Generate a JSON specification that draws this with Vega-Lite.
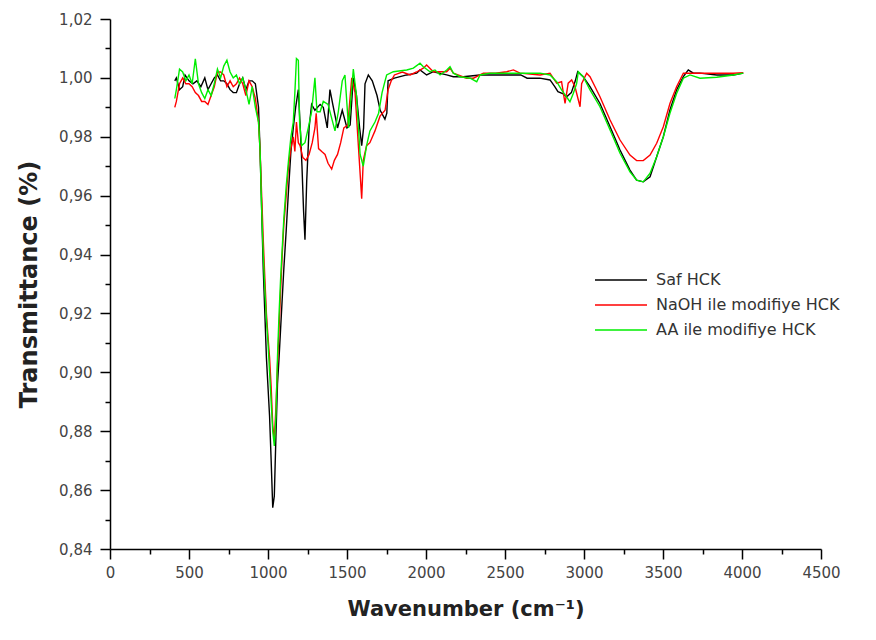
{
  "$schema": "https://vega.github.io/schema/vega-lite/v6.json",
  "width": 711,
  "height": 530,
  "autosize": {"type": "none"},
  "padding": {"left": 110, "top": 19, "right": 55, "bottom": 91},
  "background": "white",
  "config": {
    "view": {"stroke": null},
    "font": "DejaVu Sans"
  },
  "datasets": {
    "saf": [
      {"w": 410, "t": 0.999}, {"w": 420, "t": 1.000}, {"w": 440, "t": 0.996}, {"w": 460, "t": 0.997}, {"w": 475, "t": 1.001},
      {"w": 500, "t": 0.999}, {"w": 525, "t": 0.998}, {"w": 550, "t": 0.999}, {"w": 575, "t": 0.997}, {"w": 600, "t": 1.000},
      {"w": 620, "t": 0.996}, {"w": 640, "t": 0.998}, {"w": 660, "t": 1.000}, {"w": 680, "t": 1.001}, {"w": 700, "t": 0.999},
      {"w": 720, "t": 0.999}, {"w": 740, "t": 0.998}, {"w": 760, "t": 0.996}, {"w": 780, "t": 0.995}, {"w": 800, "t": 0.995},
      {"w": 820, "t": 0.998}, {"w": 840, "t": 1.000}, {"w": 860, "t": 0.996}, {"w": 880, "t": 0.999}, {"w": 900, "t": 0.999},
      {"w": 920, "t": 0.998}, {"w": 940, "t": 0.990}, {"w": 950, "t": 0.975}, {"w": 960, "t": 0.955}, {"w": 970, "t": 0.935},
      {"w": 980, "t": 0.920}, {"w": 990, "t": 0.905}, {"w": 1000, "t": 0.895}, {"w": 1010, "t": 0.885}, {"w": 1020, "t": 0.870},
      {"w": 1030, "t": 0.854}, {"w": 1040, "t": 0.858}, {"w": 1050, "t": 0.878}, {"w": 1060, "t": 0.896}, {"w": 1070, "t": 0.905},
      {"w": 1080, "t": 0.915}, {"w": 1090, "t": 0.925}, {"w": 1100, "t": 0.935}, {"w": 1115, "t": 0.948}, {"w": 1130, "t": 0.962},
      {"w": 1145, "t": 0.975}, {"w": 1160, "t": 0.983}, {"w": 1175, "t": 0.990}, {"w": 1192, "t": 0.996}, {"w": 1205, "t": 0.982},
      {"w": 1215, "t": 0.970}, {"w": 1225, "t": 0.955}, {"w": 1234, "t": 0.945}, {"w": 1245, "t": 0.965}, {"w": 1260, "t": 0.983},
      {"w": 1276, "t": 0.991}, {"w": 1297, "t": 0.989}, {"w": 1330, "t": 0.991}, {"w": 1350, "t": 0.990}, {"w": 1375, "t": 0.983},
      {"w": 1392, "t": 0.996}, {"w": 1410, "t": 0.991}, {"w": 1440, "t": 0.983}, {"w": 1470, "t": 0.989}, {"w": 1500, "t": 0.983},
      {"w": 1520, "t": 0.984}, {"w": 1540, "t": 1.000}, {"w": 1560, "t": 0.994}, {"w": 1580, "t": 0.983}, {"w": 1593, "t": 0.977},
      {"w": 1605, "t": 0.983}, {"w": 1614, "t": 0.998}, {"w": 1635, "t": 1.001}, {"w": 1660, "t": 0.999}, {"w": 1690, "t": 0.994},
      {"w": 1710, "t": 0.989}, {"w": 1740, "t": 0.986}, {"w": 1752, "t": 0.988}, {"w": 1760, "t": 0.999}, {"w": 1800, "t": 0.9999},
      {"w": 1878, "t": 1.001}, {"w": 1941, "t": 1.0016}, {"w": 1962, "t": 1.0027}, {"w": 2004, "t": 1.001}, {"w": 2046, "t": 1.0021},
      {"w": 2131, "t": 1.001}, {"w": 2173, "t": 1.0004}, {"w": 2236, "t": 1.0004}, {"w": 2342, "t": 1.001}, {"w": 2468, "t": 1.001},
      {"w": 2600, "t": 1.001}, {"w": 2640, "t": 0.9999}, {"w": 2720, "t": 0.9999}, {"w": 2785, "t": 0.9993}, {"w": 2815, "t": 0.997},
      {"w": 2835, "t": 0.9953}, {"w": 2865, "t": 0.9947}, {"w": 2890, "t": 0.9936}, {"w": 2920, "t": 0.995}, {"w": 2945, "t": 0.999},
      {"w": 2960, "t": 1.0021}, {"w": 2995, "t": 1.0004}, {"w": 3038, "t": 0.997}, {"w": 3101, "t": 0.9913}, {"w": 3165, "t": 0.9834},
      {"w": 3228, "t": 0.9755}, {"w": 3291, "t": 0.9687}, {"w": 3333, "t": 0.9653}, {"w": 3375, "t": 0.9647}, {"w": 3418, "t": 0.9664},
      {"w": 3460, "t": 0.9732}, {"w": 3502, "t": 0.98}, {"w": 3544, "t": 0.9891}, {"w": 3586, "t": 0.9959}, {"w": 3629, "t": 1.0004},
      {"w": 3660, "t": 1.0027}, {"w": 3692, "t": 1.0016}, {"w": 3734, "t": 1.0016}, {"w": 3840, "t": 1.001}, {"w": 3945, "t": 1.001},
      {"w": 4008, "t": 1.0016}
    ],
    "naoh": [
      {"w": 410, "t": 0.990}, {"w": 420, "t": 0.992}, {"w": 440, "t": 0.998}, {"w": 460, "t": 1.000}, {"w": 480, "t": 0.998},
      {"w": 500, "t": 0.998}, {"w": 520, "t": 0.997}, {"w": 540, "t": 0.995}, {"w": 560, "t": 0.994}, {"w": 580, "t": 0.992},
      {"w": 600, "t": 0.992}, {"w": 620, "t": 0.991}, {"w": 640, "t": 0.994}, {"w": 660, "t": 0.997}, {"w": 680, "t": 1.002},
      {"w": 700, "t": 1.002}, {"w": 720, "t": 1.001}, {"w": 740, "t": 0.997}, {"w": 760, "t": 0.999}, {"w": 780, "t": 0.997},
      {"w": 800, "t": 0.998}, {"w": 820, "t": 1.000}, {"w": 840, "t": 0.998}, {"w": 860, "t": 0.994}, {"w": 880, "t": 0.999},
      {"w": 900, "t": 0.997}, {"w": 920, "t": 0.993}, {"w": 940, "t": 0.985}, {"w": 950, "t": 0.975}, {"w": 960, "t": 0.960},
      {"w": 970, "t": 0.945}, {"w": 980, "t": 0.932}, {"w": 990, "t": 0.920}, {"w": 1000, "t": 0.912}, {"w": 1010, "t": 0.905},
      {"w": 1020, "t": 0.895}, {"w": 1030, "t": 0.882}, {"w": 1040, "t": 0.877}, {"w": 1050, "t": 0.888}, {"w": 1060, "t": 0.902},
      {"w": 1070, "t": 0.915}, {"w": 1080, "t": 0.928}, {"w": 1090, "t": 0.940}, {"w": 1100, "t": 0.950}, {"w": 1115, "t": 0.960},
      {"w": 1130, "t": 0.970}, {"w": 1145, "t": 0.976}, {"w": 1160, "t": 0.980}, {"w": 1170, "t": 0.975}, {"w": 1180, "t": 0.985},
      {"w": 1192, "t": 0.978}, {"w": 1203, "t": 0.977}, {"w": 1220, "t": 0.973}, {"w": 1240, "t": 0.972}, {"w": 1260, "t": 0.974},
      {"w": 1280, "t": 0.978}, {"w": 1297, "t": 0.983}, {"w": 1305, "t": 0.988}, {"w": 1320, "t": 0.976}, {"w": 1340, "t": 0.975},
      {"w": 1361, "t": 0.974}, {"w": 1380, "t": 0.971}, {"w": 1403, "t": 0.969}, {"w": 1420, "t": 0.972}, {"w": 1440, "t": 0.974},
      {"w": 1460, "t": 0.978}, {"w": 1480, "t": 0.983}, {"w": 1505, "t": 0.984}, {"w": 1530, "t": 1.000}, {"w": 1551, "t": 0.995},
      {"w": 1572, "t": 0.977}, {"w": 1593, "t": 0.959}, {"w": 1603, "t": 0.972}, {"w": 1624, "t": 0.977}, {"w": 1645, "t": 0.978},
      {"w": 1677, "t": 0.982}, {"w": 1709, "t": 0.987}, {"w": 1741, "t": 0.989}, {"w": 1760, "t": 0.996}, {"w": 1780, "t": 0.999},
      {"w": 1800, "t": 1.001}, {"w": 1850, "t": 1.002}, {"w": 1900, "t": 1.001}, {"w": 1940, "t": 1.002}, {"w": 1983, "t": 1.0033},
      {"w": 2004, "t": 1.0044}, {"w": 2046, "t": 1.0021}, {"w": 2131, "t": 1.0021}, {"w": 2152, "t": 1.0033}, {"w": 2173, "t": 1.0016},
      {"w": 2257, "t": 0.9999}, {"w": 2300, "t": 0.9999}, {"w": 2363, "t": 1.0016}, {"w": 2440, "t": 1.0016}, {"w": 2511, "t": 1.0021},
      {"w": 2553, "t": 1.0027}, {"w": 2595, "t": 1.0016}, {"w": 2722, "t": 1.001}, {"w": 2785, "t": 1.0016}, {"w": 2827, "t": 0.9982},
      {"w": 2858, "t": 0.9987}, {"w": 2880, "t": 0.9913}, {"w": 2900, "t": 0.9982}, {"w": 2922, "t": 0.9993}, {"w": 2943, "t": 0.997},
      {"w": 2975, "t": 0.9902}, {"w": 2985, "t": 0.998}, {"w": 3017, "t": 1.0016}, {"w": 3038, "t": 1.0004}, {"w": 3070, "t": 0.997},
      {"w": 3101, "t": 0.9936}, {"w": 3165, "t": 0.9857}, {"w": 3228, "t": 0.9789}, {"w": 3291, "t": 0.9738}, {"w": 3333, "t": 0.9719},
      {"w": 3375, "t": 0.9719}, {"w": 3418, "t": 0.9738}, {"w": 3460, "t": 0.9778}, {"w": 3502, "t": 0.9834}, {"w": 3544, "t": 0.9913},
      {"w": 3586, "t": 0.997}, {"w": 3629, "t": 1.0016}, {"w": 3671, "t": 1.0016}, {"w": 3734, "t": 1.0016}, {"w": 3840, "t": 1.0016},
      {"w": 3945, "t": 1.0016}, {"w": 4008, "t": 1.0018}
    ],
    "aa": [
      {"w": 410, "t": 0.993}, {"w": 420, "t": 0.996}, {"w": 440, "t": 1.003}, {"w": 460, "t": 1.002}, {"w": 480, "t": 0.999},
      {"w": 500, "t": 1.001}, {"w": 520, "t": 0.998}, {"w": 540, "t": 1.0065}, {"w": 560, "t": 0.998}, {"w": 580, "t": 0.995},
      {"w": 600, "t": 0.993}, {"w": 620, "t": 0.996}, {"w": 640, "t": 0.994}, {"w": 660, "t": 0.998}, {"w": 680, "t": 1.003},
      {"w": 700, "t": 1.000}, {"w": 720, "t": 1.004}, {"w": 740, "t": 1.006}, {"w": 760, "t": 1.002}, {"w": 780, "t": 1.000},
      {"w": 800, "t": 1.001}, {"w": 820, "t": 0.998}, {"w": 840, "t": 1.000}, {"w": 860, "t": 0.996}, {"w": 880, "t": 0.991},
      {"w": 900, "t": 0.997}, {"w": 920, "t": 0.990}, {"w": 940, "t": 0.985}, {"w": 950, "t": 0.975}, {"w": 960, "t": 0.955},
      {"w": 970, "t": 0.940}, {"w": 980, "t": 0.928}, {"w": 990, "t": 0.918}, {"w": 1000, "t": 0.910}, {"w": 1010, "t": 0.900},
      {"w": 1020, "t": 0.890}, {"w": 1030, "t": 0.880}, {"w": 1040, "t": 0.875}, {"w": 1050, "t": 0.885}, {"w": 1060, "t": 0.905},
      {"w": 1070, "t": 0.920}, {"w": 1080, "t": 0.932}, {"w": 1090, "t": 0.942}, {"w": 1100, "t": 0.952}, {"w": 1115, "t": 0.963},
      {"w": 1130, "t": 0.972}, {"w": 1145, "t": 0.980}, {"w": 1160, "t": 0.985}, {"w": 1170, "t": 0.995}, {"w": 1180, "t": 1.0066},
      {"w": 1192, "t": 1.006}, {"w": 1200, "t": 0.985}, {"w": 1213, "t": 0.977}, {"w": 1234, "t": 0.978}, {"w": 1255, "t": 0.983},
      {"w": 1276, "t": 0.9885}, {"w": 1297, "t": 1.000}, {"w": 1310, "t": 0.9885}, {"w": 1330, "t": 0.9885}, {"w": 1350, "t": 0.992},
      {"w": 1380, "t": 0.991}, {"w": 1424, "t": 0.982}, {"w": 1445, "t": 0.9885}, {"w": 1470, "t": 0.999}, {"w": 1487, "t": 1.001},
      {"w": 1510, "t": 0.983}, {"w": 1540, "t": 1.003}, {"w": 1560, "t": 0.994}, {"w": 1583, "t": 0.974}, {"w": 1603, "t": 0.970},
      {"w": 1624, "t": 0.977}, {"w": 1645, "t": 0.982}, {"w": 1677, "t": 0.985}, {"w": 1700, "t": 0.988}, {"w": 1722, "t": 0.995},
      {"w": 1741, "t": 0.999}, {"w": 1751, "t": 1.001}, {"w": 1793, "t": 1.0021}, {"w": 1878, "t": 1.0027}, {"w": 1920, "t": 1.0033},
      {"w": 1962, "t": 1.005}, {"w": 1983, "t": 1.0038}, {"w": 2025, "t": 1.0021}, {"w": 2057, "t": 1.0027}, {"w": 2089, "t": 1.001},
      {"w": 2131, "t": 1.0027}, {"w": 2152, "t": 1.0038}, {"w": 2173, "t": 1.0016}, {"w": 2215, "t": 1.0004}, {"w": 2279, "t": 0.9999},
      {"w": 2321, "t": 0.9987}, {"w": 2342, "t": 1.001}, {"w": 2405, "t": 1.0016}, {"w": 2468, "t": 1.0016}, {"w": 2600, "t": 1.0016},
      {"w": 2722, "t": 1.0016}, {"w": 2785, "t": 1.001}, {"w": 2827, "t": 0.9987}, {"w": 2858, "t": 0.9959}, {"w": 2911, "t": 0.9919},
      {"w": 2932, "t": 0.9947}, {"w": 2953, "t": 0.998}, {"w": 2964, "t": 1.0021}, {"w": 2995, "t": 1.0004}, {"w": 3038, "t": 0.9959},
      {"w": 3101, "t": 0.9902}, {"w": 3165, "t": 0.9823}, {"w": 3228, "t": 0.9744}, {"w": 3291, "t": 0.9681}, {"w": 3333, "t": 0.9653},
      {"w": 3375, "t": 0.9647}, {"w": 3418, "t": 0.9676}, {"w": 3460, "t": 0.9732}, {"w": 3502, "t": 0.98}, {"w": 3544, "t": 0.988},
      {"w": 3586, "t": 0.9947}, {"w": 3629, "t": 0.9999}, {"w": 3671, "t": 1.001}, {"w": 3734, "t": 0.9999}, {"w": 3840, "t": 1.0002},
      {"w": 3945, "t": 1.001}, {"w": 4008, "t": 1.0016}
    ]
  },
  "encoding": {
    "x": {
      "field": "w",
      "type": "quantitative",
      "scale": {"domain": [0, 4500], "nice": false, "zero": false},
      "axis": {
        "title": "Wavenumber (cm⁻¹)",
        "values": [0, 250, 500, 750, 1000, 1250, 1500, 1750, 2000, 2250, 2500, 2750, 3000, 3250, 3500, 3750, 4000, 4250, 4500],
        "format": "d",
        "labelExpr": "datum.value % 500 === 0 ? datum.label : ''",
        "grid": false,
        "domainColor": "#000000",
        "domainWidth": 1.5,
        "tickColor": "#000000",
        "tickWidth": 1.5,
        "tickSize": {"condition": {"test": "datum.value % 500 === 0", "value": 10}, "value": 5},
        "labelFont": "DejaVu Sans",
        "labelFontSize": 15,
        "labelColor": "#444444",
        "labelPadding": 6,
        "labelFlush": false,
        "labelOverlap": false,
        "titleFont": "DejaVu Sans",
        "titleFontSize": 21,
        "titleFontWeight": "bold",
        "titleColor": "#222222",
        "titlePadding": 18
      }
    },
    "y": {
      "field": "t",
      "type": "quantitative",
      "scale": {"domain": [0.84, 1.02], "nice": false, "zero": false},
      "axis": {
        "title": "Transmittance (%)",
        "values": [0.84, 0.85, 0.86, 0.87, 0.88, 0.89, 0.9, 0.91, 0.92, 0.93, 0.94, 0.95, 0.96, 0.97, 0.98, 0.99, 1.0, 1.01, 1.02],
        "labelExpr": "round(datum.value * 100) % 2 === 0 ? replace(format(datum.value, '.2f'), '.', ',') : ''",
        "grid": false,
        "domainColor": "#000000",
        "domainWidth": 1.5,
        "tickColor": "#000000",
        "tickWidth": 1.5,
        "tickSize": {"condition": {"test": "round(datum.value * 100) % 2 === 0", "value": 10}, "value": 5},
        "labelFont": "DejaVu Sans",
        "labelFontSize": 15,
        "labelColor": "#444444",
        "labelPadding": 8,
        "labelFlush": false,
        "labelOverlap": false,
        "titleFont": "DejaVu Sans",
        "titleFontSize": 24,
        "titleFontWeight": "bold",
        "titleColor": "#222222",
        "titlePadding": 17,
        "titleY": 265
      }
    }
  },
  "layer": [
    {
      "data": {"name": "saf"},
      "mark": {"type": "line", "strokeWidth": 1.4},
      "encoding": {
        "color": {
          "datum": "Saf HCK",
          "type": "nominal",
          "scale": {
            "domain": ["Saf HCK", "NaOH ile modifiye HCK", "AA ile modifiye HCK"],
            "range": ["#000000", "#ff0000", "#00ee00"]
          },
          "legend": {
            "title": null,
            "orient": "none",
            "legendX": 500,
            "legendY": 250,
            "padding": 0,
            "symbolType": "M-2.6,0H2.6",
            "symbolSize": 400,
            "symbolStrokeWidth": 1.5,
            "symbolFillColor": "transparent",
            "labelOffset": 24,
            "rowPadding": 6,
            "labelFont": "DejaVu Sans",
            "labelFontSize": 16,
            "labelColor": "#333333",
            "labelLimit": 400
          }
        }
      }
    },
    {
      "data": {"name": "naoh"},
      "mark": {"type": "line", "strokeWidth": 1.4},
      "encoding": {"color": {"datum": "NaOH ile modifiye HCK", "type": "nominal"}}
    },
    {
      "data": {"name": "aa"},
      "mark": {"type": "line", "strokeWidth": 1.4},
      "encoding": {"color": {"datum": "AA ile modifiye HCK", "type": "nominal"}}
    }
  ]
}
